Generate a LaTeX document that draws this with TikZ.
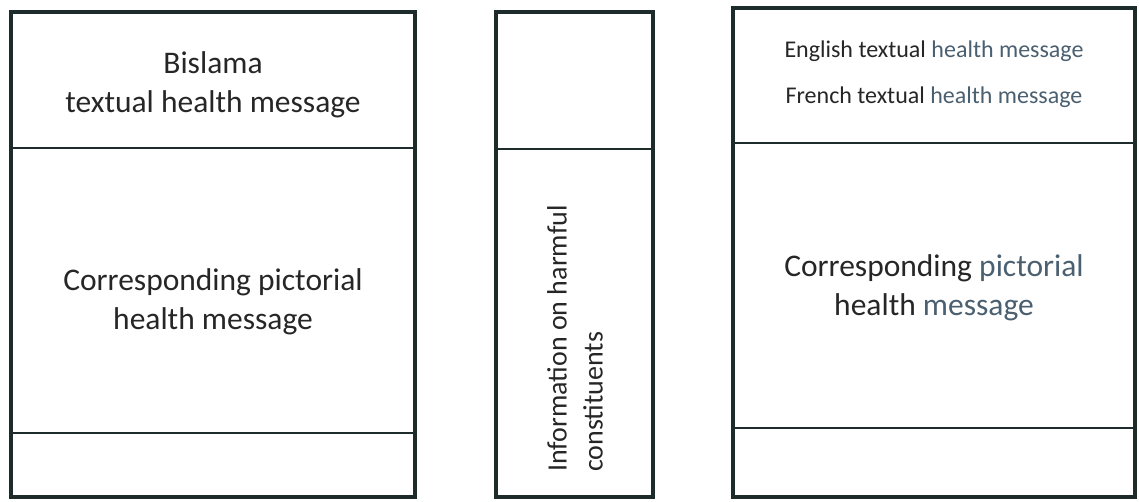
\documentclass[tikz,border=0pt]{standalone}
\usepackage{fontspec}
\setmainfont{Carlito}
\definecolor{linec}{HTML}{1E2B2B}
\definecolor{txt}{HTML}{262626}
\definecolor{bluet}{HTML}{4A5F70}
\begin{document}
\begin{tikzpicture}[x=1pt,y=-1pt,
  outer/.style={draw=linec,line width=3.2pt},
  divider/.style={draw=linec,line width=2pt},
  bigtext/.style={font=\fontsize{31.5}{39}\selectfont,text=txt,align=center,inner sep=0pt},
  smalltext/.style={font=\fontsize{24}{29}\selectfont,text=txt,inner sep=0pt},
  midtext/.style={font=\fontsize{28}{36}\selectfont,text=txt,align=left,inner sep=0pt,rotate=90,anchor=west}]
\useasboundingbox (0,0) rectangle (1139,501);
% left panel
\coordinate (L1) at (11,12); \coordinate (L2) at (415,497);
\draw[outer] (L1) rectangle (L2);
\coordinate (La) at (11,148); \coordinate (Lb) at (415,148);
\coordinate (Lc) at (11,433); \coordinate (Ld) at (415,433);
\draw[divider] (La) -- (Lb);
\draw[divider] (Lc) -- (Ld);
\node[bigtext] (lt) at (213,85) {Bislama\\textual health message};
\node[bigtext] (lm) at (213,302) {Corresponding pictorial\\health message};
% middle panel
\coordinate (M1) at (496,12); \coordinate (M2) at (653,497);
\draw[outer] (M1) rectangle (M2);
\coordinate (Ma) at (496,149); \coordinate (Mb) at (653,149);
\draw[divider] (Ma) -- (Mb);
\node[midtext] (mt) at (575,472) {Information on harmful\\constituents};
% right panel
\coordinate (R1) at (733,8); \coordinate (R2) at (1135,497);
\draw[outer] (R1) rectangle (R2);
\coordinate (Ra) at (733,143); \coordinate (Rb) at (1135,143);
\coordinate (Rc) at (733,428); \coordinate (Rd) at (1135,428);
\draw[divider] (Ra) -- (Rb);
\draw[divider] (Rc) -- (Rd);
\node[smalltext] (re) at (934,51) {English textual \textcolor{bluet}{health message}};
\node[smalltext] (rf) at (934,97) {French textual \textcolor{bluet}{health message}};
\node[bigtext] (rm) at (934,288) {Corresponding \textcolor{bluet}{pictorial}\\health \textcolor{bluet}{message}};
\end{tikzpicture}
\end{document}
